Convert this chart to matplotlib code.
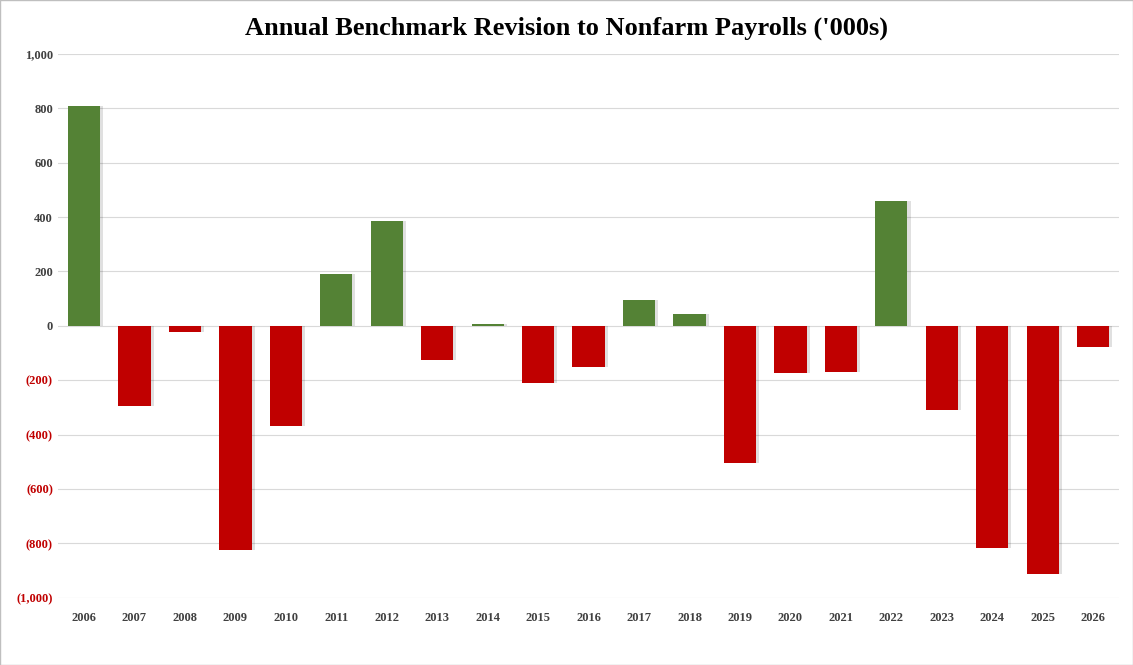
import matplotlib
matplotlib.use("Agg")
import matplotlib.pyplot as plt
from matplotlib.ticker import FuncFormatter

years = [str(y) for y in range(2006, 2027)]
revisions = [809, -294, -22, -824, -368, 192, 386, -125, 8, -210, -151,
             96, 44, -504, -173, -169, 460, -309, -816, -911, -77]

GREEN = "#548235"
RED = "#c00000"

plt.rcParams["font.family"] = ["Liberation Serif", "DejaVu Serif"]

fig = plt.figure(figsize=(11.33, 6.65), dpi=100)
ax = fig.add_axes([0.051, 0.101, 0.937, 0.818])

x = list(range(len(years)))
colors = [GREEN if v >= 0 else RED for v in revisions]
# soft drop shadow
ax.bar([i + 0.06 for i in x], revisions, width=0.64, color="#000000",
       alpha=0.12, zorder=2)
ax.bar(x, revisions, width=0.64, color=colors, zorder=3)

ax.set_ylim(-1000, 1000)
ax.set_xlim(-0.52, len(years) - 0.48)
ax.set_yticks(range(-1000, 1001, 200))
ax.yaxis.set_major_formatter(FuncFormatter(
    lambda v, _: f"({abs(int(v)):,})" if v < 0 else f"{int(v):,}"))
ax.set_xticks(x)
ax.set_xticklabels(years)
ax.grid(axis="y", color="#d9d9d9", linewidth=0.8, zorder=0)
for s in ax.spines.values():
    s.set_visible(False)
ax.tick_params(length=0, labelsize=9)
ax.tick_params(axis="x", pad=10)
for lab in ax.get_xticklabels() + ax.get_yticklabels():
    lab.set_fontweight("bold")
    lab.set_color("#404040")
for lab, v in zip(ax.get_yticklabels(), ax.get_yticks()):
    if v < 0:
        lab.set_color(RED)

fig.suptitle("Annual Benchmark Revision to Nonfarm Payrolls ('000s)",
             fontsize=19, fontweight="bold", y=0.975)
fig.patches.append(plt.Rectangle((0, 0), 1, 1, transform=fig.transFigure,
                                 fill=False, edgecolor="#bfbfbf", linewidth=1))

fig.savefig("out.png", dpi=100)
